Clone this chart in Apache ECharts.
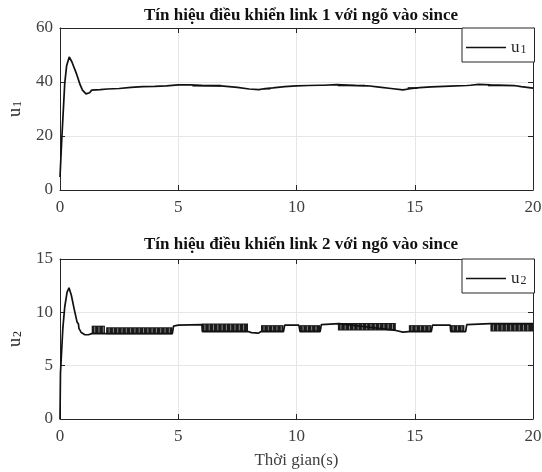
<!DOCTYPE html>
<html>
<head>
	<meta charset="utf-8">
	<title>u1 u2</title>
</head>

<body style="margin:0;">
	<div style="width:542px;height:472px;" id="chart1"></div>

	<script src="https://cdn.jsdelivr.net/npm/echarts@6/dist/echarts.min.js"></script>
	<script>

	var titles = ['Tín hiệu điều khiển link 1 với ngõ vào since', 'Tín hiệu điều khiển link 2 với ngõ vào since'];
	var xTicks = [0, 5, 10, 15, 20];
	var y1Ticks = [0, 20, 40, 60];
	var y2Ticks = [0, 5, 10, 15];

	// u1 (t, value)
	var u1 = [[0,4.8],[0.07,18],[0.14,29.5],[0.2,39.5],[0.28,46],[0.39,49.3],[0.5,47.5],[0.7,43],[0.85,39],
		[0.95,37],[1.1,35.6],[1.25,36],[1.34,37],[1.7,37.2],[2,37.4],[2.5,37.6],[3,38],[3.5,38.3],[4,38.4],
		[4.5,38.6],[5,38.9],[5.5,38.9],[6,38.7],[6.8,38.6],[7.5,38.0],[8,37.4],[8.4,37.2],[8.7,37.6],[9,37.8],
		[9.5,38.3],[10,38.6],[10.5,38.7],[11,38.8],[11.05,38.4],[11.15,38.8],[11.7,39],[12.5,38.7],[13,38.6],
		[13.5,38.1],[14,37.6],[14.5,37.1],[14.8,37.5],[15.2,37.9],[15.7,38.2],[16.5,38.5],[17.2,38.7],
		[17.25,38.3],[17.35,38.8],[17.7,39.1],[18.2,38.9],[19.2,38.7],[19.5,38.3],[20,37.7]];
	// u1 chattering bands [t start, t end, low, high]
	var u1Bands = [[5.6,6.8,38.3,39.0],[8.6,8.9,37.2,37.8],[11.75,12.9,38.4,39.0],[14.7,15.1,37.4,38.1],[18.1,19.25,38.4,38.9]];

	// u2 (t, value)
	var u2 = [[0,0],[0.02,4.3],[0.06,6],[0.12,8.5],[0.2,10.5],[0.3,11.9],[0.38,12.3],[0.48,11.6],[0.6,10.3],
		[0.72,9.1],[0.78,8.9],[0.8,8.5],[0.9,8.1],[1.05,7.9],[1.2,7.9],[1.34,8.0],[4.75,8.0],[4.8,8.7],[5,8.8],
		[6,8.85],[6.02,8.2],[7.95,8.2],[8.1,8.1],[8.4,8.05],[8.5,8.2],[9.45,8.2],[9.5,8.8],[10.1,8.8],[10.15,8.2],
		[11,8.2],[11.05,8.85],[11.8,8.95],[14.2,8.3],[14.5,8.15],[14.75,8.2],[15.7,8.2],[15.75,8.8],[16.5,8.8],
		[16.52,8.2],[17.15,8.2],[17.2,8.85],[18.2,8.95],[20,8.95]];
	var u2Bands = [[1.34,1.9,8.0,8.75],[1.95,4.75,7.95,8.6],[6.0,7.95,8.2,8.95],[8.5,9.45,8.2,8.8],[10.15,11,8.2,8.8],
		[11.75,14.2,8.3,9.0],[14.75,15.7,8.2,8.8],[16.5,17.1,8.2,8.8],[18.2,20,8.2,8.95]];

	var serif = 'Liberation Serif';
	var ink = '#262626';

	// dải rung (chattering): khối đen với vài khe trắng mảnh
	function bandItem(params, api) {
		var p1 = api.coord([api.value(0), api.value(3)]);
		var p2 = api.coord([api.value(1), api.value(2)]);
		var h = p2[1] - p1[1];
		var kids = [{type: 'rect', shape: {x: p1[0], y: p1[1], width: p2[0] - p1[0], height: h},
			style: {fill: '#1a1a1a'}}];
		if (h > 4) {
			for (var x = p1[0] + 3; x < p2[0] - 1; x += 4.3) {
				kids.push({type: 'line', shape: {x1: x, y1: p1[1] + 1, x2: x, y2: p2[1] - 1},
					style: {stroke: '#fff', lineWidth: 0.6, opacity: 0.8}});
			}
		}
		return {type: 'group', children: kids};
	}

	function subRich(big, small, drop) {
		return {
			a: {fontFamily: serif, fontSize: big, color: ink, lineHeight: big, verticalAlign: 'top'},
			b: {fontFamily: serif, fontSize: small, color: ink, lineHeight: small, verticalAlign: 'bottom', padding: [drop, 0, 0, 1]}
		};
	}

	function xAx(g, pos, ticks) {
		return {
			type: 'value', gridIndex: g, position: pos, min: ticks[0], max: ticks[ticks.length - 1], interval: 5,
			axisLine: {show: true, onZero: false, lineStyle: {color: ink, width: 1}},
			axisTick: {show: true, inside: true, length: 5, lineStyle: {color: ink}},
			axisLabel: {show: pos === 'bottom', margin: 9, fontFamily: serif, fontSize: 17, color: '#404040'},
			splitLine: {show: pos === 'bottom', lineStyle: {color: '#e6e6e6'}}
		};
	}

	function yAx(g, pos, ticks, name) {
		return {
			type: 'value', gridIndex: g, position: pos, min: ticks[0], max: ticks[ticks.length - 1],
			interval: ticks[1] - ticks[0],
			name: pos === 'left' ? '{a|u}{b|' + name + '}' : '',
			nameLocation: 'middle', nameGap: 36, nameRotate: 90,
			nameTextStyle: {rich: subRich(18, 12, 10)},
			axisLine: {show: true, onZero: false, lineStyle: {color: ink, width: 1}},
			axisTick: {show: true, inside: true, length: 5, lineStyle: {color: ink}},
			axisLabel: {show: pos === 'left', margin: 7, fontFamily: serif, fontSize: 17, color: '#404040'},
			splitLine: {show: pos === 'left', lineStyle: {color: '#e6e6e6'}}
		};
	}

	function legendAt(top, name) {
		return {
			data: [name], left: 462, top: top, orient: 'vertical', icon: 'rect',
			backgroundColor: '#fff', borderColor: ink, borderWidth: 1, borderRadius: 0,
			padding: [7, 8, 6, 4], itemWidth: 40, itemHeight: 1.6,
			formatter: function(n) { return '{a|u}{b|' + n.slice(1) + '}'; },
			textStyle: {rich: subRich(17, 12, 9)}
		};
	}

	var myChart = echarts.init(document.getElementById('chart1'));

	var option = {
		animation: false,
		backgroundColor: '#fff',
		title: [
			{text: titles[0], left: 296, top: 2, textAlign: 'center',
				textStyle: {fontFamily: serif, fontWeight: 'bold', fontSize: 17, color: '#111'}},
			{text: titles[1], left: 296, top: 231, textAlign: 'center',
				textStyle: {fontFamily: serif, fontWeight: 'bold', fontSize: 17, color: '#111'}}
		],
		legend: [legendAt(28, 'u1'), legendAt(259, 'u2')],
		grid: [
			{left: 60, right: 9, top: 28, height: 162, outerBoundsMode: 'none'},
			{left: 60, right: 9, top: 259, height: 160, outerBoundsMode: 'none'}
		],
		xAxis: [
			xAx(0, 'bottom', xTicks), xAx(0, 'top', xTicks),
			Object.assign(xAx(1, 'bottom', xTicks), {name: 'Thời gian(s)', nameLocation: 'middle', nameGap: 33,
				nameTextStyle: {fontFamily: serif, fontSize: 17, color: '#404040'}}),
			xAx(1, 'top', xTicks)
		],
		yAxis: [
			yAx(0, 'left', y1Ticks, '1'), yAx(0, 'right', y1Ticks, ''),
			yAx(1, 'left', y2Ticks, '2'), yAx(1, 'right', y2Ticks, '')
		],
		series: [
			{name: 'u1', type: 'line', xAxisIndex: 0, yAxisIndex: 0, data: u1, showSymbol: false, symbol: 'none',
				lineStyle: {color: '#111', width: 1.7}, itemStyle: {color: '#111'}},
			{type: 'custom', xAxisIndex: 0, yAxisIndex: 0, data: u1Bands, renderItem: bandItem,
				encode: {x: [0, 1], y: [2, 3]}, clip: true},
			{name: 'u2', type: 'line', xAxisIndex: 2, yAxisIndex: 2, data: u2, showSymbol: false, symbol: 'none',
				lineStyle: {color: '#111', width: 1.7}, itemStyle: {color: '#111'}},
			{type: 'custom', xAxisIndex: 2, yAxisIndex: 2, data: u2Bands, renderItem: bandItem,
				encode: {x: [0, 1], y: [2, 3]}, clip: true}
		]
	};

	myChart.setOption(option);
	</script>
</body>

</html>
